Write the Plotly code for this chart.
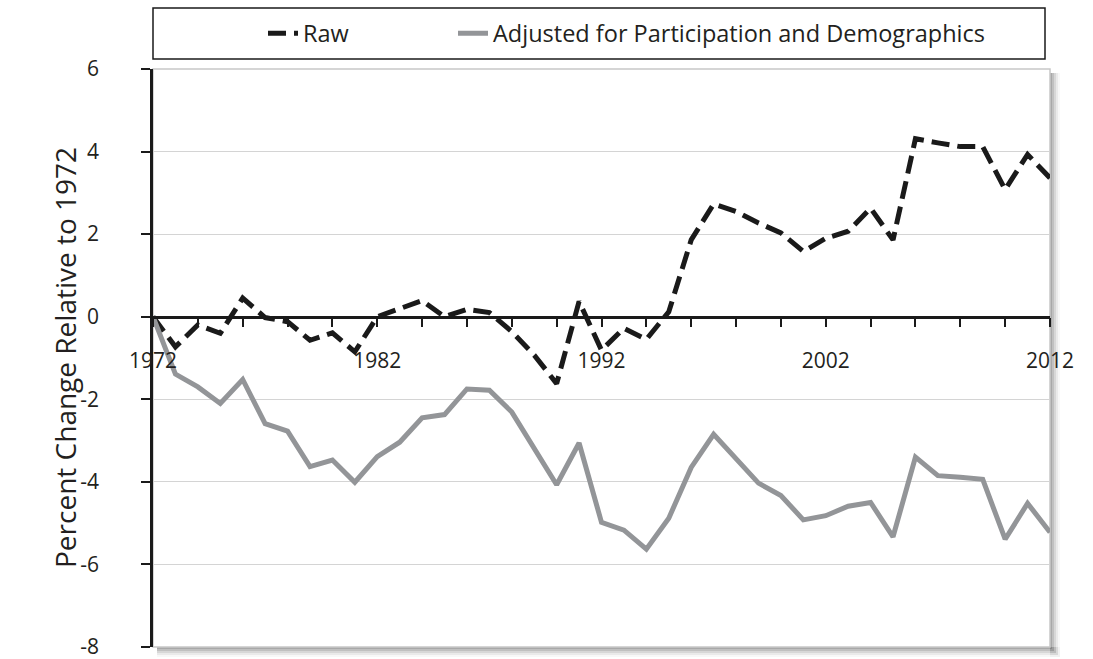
import plotly.graph_objects as go

years = list(range(1972, 2013))
raw = [0.0, -0.73, -0.2, -0.4, 0.45, -0.02, -0.12, -0.57, -0.39, -0.85,
       0.0, 0.18, 0.39, 0.0, 0.18, 0.1, -0.36, -0.93, -1.62, 0.37,
       -0.81, -0.28, -0.55, 0.12, 1.86, 2.73, 2.55, 2.27, 2.03, 1.58,
       1.9, 2.07, 2.63, 1.86, 4.31, 4.21, 4.12, 4.12, 3.08, 3.93, 3.36]
adjusted = [0.0, -1.39, -1.70, -2.1, -1.52, -2.59, -2.77, -3.63, -3.47, -4.01,
            -3.39, -3.04, -2.45, -2.37, -1.75, -1.78, -2.31, -3.2, -4.07, -3.06,
            -4.98, -5.17, -5.63, -4.88, -3.65, -2.85, -3.44, -4.03, -4.33, -4.92,
            -4.82, -4.59, -4.5, -5.33, -3.4, -3.85, -3.89, -3.94, -5.39, -4.52, -5.22]
series_names = ["Raw", "Adjusted for Participation and Demographics"]
y_ticks = [-8, -6, -4, -2, 0, 2, 4, 6]
x_ticks = [1972, 1982, 1992, 2002, 2012]
y_title = "Percent Change Relative to 1972"

W, H = 1093, 659
ML, MR, MT, MB = 153, 43, 69, 12
pw = W - ML - MR
ph = H - MT - MB
ymin, ymax = -8, 6
txt = "#231f20"
font = "Open Sans"

fig = go.Figure()
fig.add_trace(go.Scatter(x=years, y=raw, mode="lines", name=series_names[0],
                         legend="legend",
                         line=dict(color="#1a1a1a", width=5, dash="18px,8px")))
fig.add_trace(go.Scatter(x=years, y=adjusted, mode="lines", name=series_names[1],
                         legend="legend2",
                         line=dict(color="#939598", width=5)))

# plot-area border and shadow
shadow_steps = [(2, 0.32), (4, 0.24), (6, 0.16), (8, 0.10), (10, 0.05)]
for off, op in shadow_steps:
    fig.add_shape(type="rect", xref="x domain", yref="y domain",
                  xsizemode="pixel", xanchor=1, x0=0, x1=off,
                  y0=-off / ph, y1=1 - 4 / ph,
                  fillcolor=f"rgba(120,120,120,{op})", line_width=0, layer="below")
    fig.add_shape(type="rect", xref="x domain", yref="y domain",
                  ysizemode="pixel", yanchor=0, y0=-off, y1=0,
                  x0=4 / pw, x1=1 + off / pw,
                  fillcolor=f"rgba(120,120,120,{op})", line_width=0, layer="below")
fig.add_shape(type="rect", xref="x domain", yref="y domain", x0=0, x1=1, y0=0, y1=1,
              line=dict(color="#c8c8c8", width=1.5), fillcolor="rgba(0,0,0,0)", layer="below")

# legend box
fig.add_shape(type="rect", xref="paper", yref="paper",
              x0=0, x1=(1045 - ML) / pw,
              y0=1 + (MT - 59) / ph, y1=1 + (MT - 8) / ph,
              line=dict(color="#1a1a1a", width=1.5), fillcolor="rgba(0,0,0,0)")

# y-axis title
fig.add_annotation(text=y_title, xref="paper", yref="paper",
                   x=(65 - ML) / pw, y=0.5, xanchor="center", yanchor="middle",
                   textangle=-90, showarrow=False,
                   font=dict(size=28, color=txt, family=font))

leg_y = 1 + (MT - 33.5) / ph
leg_common = dict(orientation="h", xanchor="left", y=leg_y, yanchor="middle",
                  font=dict(size=23.5, color=txt), bgcolor="rgba(0,0,0,0)",
                  itemclick=False, itemdoubleclick=False)

fig.update_layout(
    template="none",
    width=W, height=H,
    margin=dict(l=ML, r=MR, t=MT, b=MB, autoexpand=False),
    paper_bgcolor="white", plot_bgcolor="white",
    font=dict(family=font, color=txt, size=20),
    showlegend=True,
    legend=dict(x=(263 - ML) / pw, **leg_common),
    legend2=dict(x=(453 - ML) / pw, **leg_common),
    xaxis=dict(range=[1972, 2012], anchor="free", position=(0 - ymin) / (ymax - ymin),
               automargin=False,
               showgrid=False, zeroline=False,
               showline=True, linecolor="#1a1a1a", linewidth=2.5,
               tickmode="array", tickvals=x_ticks, ticktext=[str(v) for v in x_ticks],
               ticks="outside", ticklen=9, tickwidth=2, tickcolor="#1a1a1a",
               minor=dict(dtick=2, tick0=1972, ticks="outside", ticklen=9, tickwidth=2,
                          tickcolor="#1a1a1a", showgrid=False),
               tickfont=dict(size=21, color=txt), ticklabelstandoff=15,
               ticklabeloverflow="allow"),
    yaxis=dict(range=[ymin, ymax], tickvals=y_ticks, ticktext=[str(v) for v in y_ticks],
               automargin=False,
               showgrid=True, gridcolor="#d4d4d4", gridwidth=1, zeroline=False,
               showline=True, linecolor="#1a1a1a", linewidth=2.5,
               ticks="outside", ticklen=9, tickwidth=2, tickcolor="#1a1a1a",
               tickfont=dict(size=21, color=txt), ticklabelstandoff=38,
               ticklabeloverflow="allow"),
)

fig.write_html("out.html", config={"displayModeBar": False},
               post_script="document.body.style.margin='0';")
